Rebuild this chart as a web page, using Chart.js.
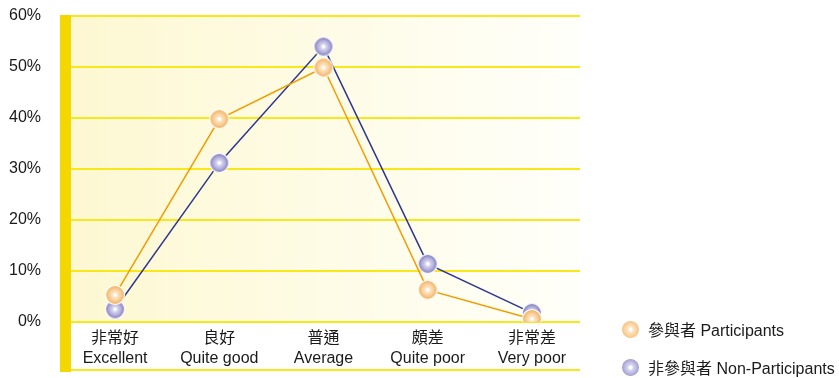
<!DOCTYPE html>
<html>
<head>
<meta charset="utf-8">
<script src="https://cdn.jsdelivr.net/npm/chart.js@4/dist/chart.umd.min.js"></script>
<style>
  body { margin: 0; background: #fff; }
  #wrap { position: relative; width: 839px; height: 378px; }
  .legend { position: absolute; left: 621px; font: 16px "Liberation Sans", Arial, "Noto Sans CJK TC", sans-serif; color: #1a1a1a; white-space: nowrap; }
  .legend span.dot { display: inline-block; width: 19px; height: 19px; border-radius: 50%; vertical-align: middle; margin-right: 8px; box-sizing: border-box; border: 1px solid #fff; }
  .legend span.txt { vertical-align: middle; }
</style>
</head>
<body>
<div id="wrap">
  <canvas id="chart" width="839" height="378"></canvas>
  <div class="legend" style="top:317px"><span class="dot" style="background: radial-gradient(circle, #fff 0 12%, #fde6c6 22%, #f9cf98 55%, #f4ad5a 100%)"></span><span class="txt">參與者 Participants</span></div>
  <div class="legend" style="top:355px"><span class="dot" style="background: radial-gradient(circle, #fff 0 12%, #d9d7f0 22%, #b5b2dd 55%, #7e7abd 100%)"></span><span class="txt">非參與者 Non-Participants</span></div>
</div>
<script>
// categories (two-line labels)
const categoriesZh = ['非常好', '良好', '普通', '頗差', '非常差'];
const categoriesEn = ['Excellent', 'Quite good', 'Average', 'Quite poor', 'Very poor'];

// values in %
const participants = [5.3, 39.8, 49.9, 6.3, 0.6];
const nonParticipants = [2.5, 31.2, 54.0, 11.4, 1.8];

// y axis
const yMin = 0;
const yMax = 60;
const yStep = 10;

const FONT = '"Liberation Sans", Arial, "Noto Sans CJK TC", sans-serif';

// make a little shaded ball for the points
function makeBall(outer, mid, inner) {
    const c = document.createElement('canvas');
    c.width = 22;
    c.height = 22;
    const g = c.getContext('2d');
    const grad = g.createRadialGradient(11, 11, 0, 11, 11, 9.5);
    grad.addColorStop(0, '#ffffff');
    grad.addColorStop(0.14, '#ffffff');
    grad.addColorStop(0.25, inner);
    grad.addColorStop(0.6, mid);
    grad.addColorStop(1, outer);
    g.beginPath();
    g.arc(11, 11, 9.5, 0, Math.PI * 2);
    g.fillStyle = grad;
    g.fill();
    g.lineWidth = 1.2;
    g.strokeStyle = '#ffffff';
    g.stroke();
    return c;
}

const orangeBall = makeBall('#f4ad5a', '#f9cf98', '#fde6c6');
const purpleBall = makeBall('#7e7abd', '#b5b2dd', '#d9d7f0');

// plot background, yellow grid lines and the thick left bar
const backdrop = {
    id: 'backdrop',
    beforeDatasetsDraw(chart) {
        const ctx = chart.ctx;
        const y = chart.scales.y;
        const left = 71, right = 580;
        const top = y.getPixelForValue(yMax);
        const bottom = y.getPixelForValue(yMin);
        ctx.save();
        const grad = ctx.createLinearGradient(left, 0, right, 0);
        grad.addColorStop(0, '#fdf8d2');
        grad.addColorStop(1, '#fffffa');
        ctx.fillStyle = grad;
        ctx.fillRect(left, top, right - left, bottom - top);

        ctx.strokeStyle = '#f8e81a';
        ctx.lineWidth = 2;
        for (let v = yMin; v <= yMax; v += yStep) {
            const py = Math.round(y.getPixelForValue(v));
            ctx.beginPath();
            ctx.moveTo(left, py);
            ctx.lineTo(right, py);
            ctx.stroke();
        }
        // bottom line under the labels
        ctx.beginPath();
        ctx.moveTo(left, 370);
        ctx.lineTo(right, 370);
        ctx.stroke();

        ctx.fillStyle = '#f5d700';
        ctx.fillRect(60, top - 1, 11, 373 - top);
        ctx.restore();
    }
};

new Chart(document.getElementById('chart'), {
    type: 'line',
    data: {
        labels: categoriesZh.map((zh, i) => [zh, categoriesEn[i]]),
        datasets: [
            {
                label: '參與者 Participants',
                data: participants,
                borderColor: '#f29c00',
                borderWidth: 1.5,
                pointStyle: orangeBall,
                order: 0
            },
            {
                label: '非參與者 Non-Participants',
                data: nonParticipants,
                borderColor: '#2f3790',
                borderWidth: 1.5,
                pointStyle: purpleBall,
                order: 1
            }
        ]
    },
    options: {
        responsive: false,
        animation: false,
        layout: { autoPadding: false, padding: { top: 16, right: 255, bottom: 0, left: 0 } },
        plugins: {
            legend: { display: false },
            tooltip: { enabled: false }
        },
        scales: {
            x: {
                offset: true,
                grid: { display: false, drawTicks: false },
                border: { display: false },
                ticks: {
                    color: '#1a1a1a',
                    font: { family: FONT, size: 16, lineHeight: 1.25 },
                    padding: 7,
                    maxRotation: 0,
                    autoSkip: false
                },
                afterFit(scale) { scale.height = 56; }
            },
            y: {
                min: yMin,
                max: yMax,
                grid: { display: false, drawTicks: false },
                border: { display: false },
                ticks: {
                    stepSize: yStep,
                    color: '#1a1a1a',
                    font: { family: FONT, size: 16 },
                    padding: 22,
                    callback: v => v + '%'
                },
                afterFit(scale) {
                    scale.width = 63;
                    scale.paddingTop = 0;
                    scale.paddingBottom = 0;
                }
            }
        }
    },
    plugins: [backdrop]
});
</script>
</body>
</html>
